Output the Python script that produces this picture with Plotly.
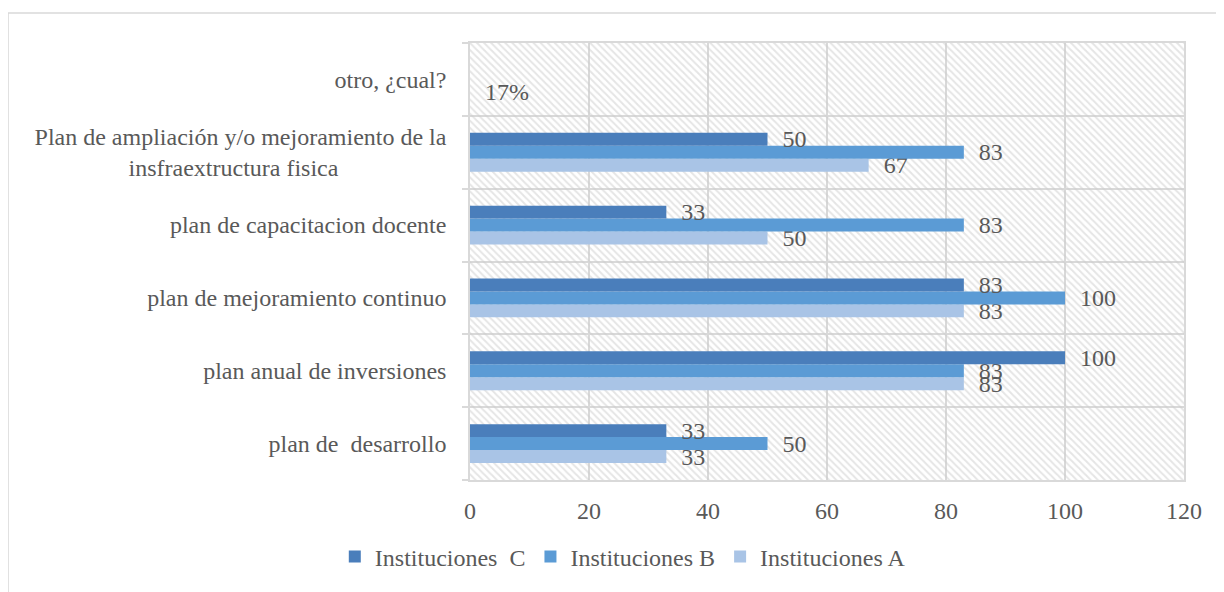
import plotly.graph_objects as go

NB = "\u00a0"
categories = [
    "plan de" + NB + NB + "desarrollo",
    "plan anual de inversiones",
    "plan de mejoramiento continuo",
    "plan de capacitacion docente",
    "Plan de ampliación y/o mejoramiento de la<br>insfraextructura fisica" + NB * 18,
    "otro, ¿cual?",
]
series_names = ["Instituciones A", "Instituciones B", "Instituciones" + NB + NB + "C"]
values_A = [33, 83, 83, 50, 67, 0]
values_B = [50, 83, 100, 83, 83, None]
values_C = [33, 100, 83, 33, 50, None]
labels_A = ["33", "83", "83", "50", "67", "17%"]
labels_B = ["50", "83", "100", "83", "83", ""]
labels_C = ["33", "100", "83", "33", "50", ""]
colors = ["#A9C4E6", "#5B9BD5", "#4A7EBB"]
x_ticks = [0, 20, 40, 60, 80, 100, 120]
x_max = 120

FONT = "Liberation Serif, Times New Roman, serif"
FS = 24
TXT = "#595959"
GRID = "#d9d9d9"

fig = go.Figure()

# hatched plot background
fig.add_trace(go.Bar(
    y=categories, x=[x_max] * len(categories), orientation="h", width=1,
    marker=dict(color="rgba(0,0,0,0)", line=dict(width=0),
                pattern=dict(shape="\\", fgcolor="#cccccc", bgcolor="rgba(0,0,0,0)",
                             size=5, solidity=0.4)),
    showlegend=False, hoverinfo="skip", yaxis="y",
))

for name, vals, labs, col in zip(series_names, [values_A, values_B, values_C],
                                 [labels_A, labels_B, labels_C], colors):
    fig.add_trace(go.Bar(
        y=categories, x=vals, orientation="h", name=name,
        marker=dict(color=col, line=dict(width=0)),
        text=[(NB + NB + t) if t else "" for t in labs],
        textposition="outside", constraintext="none", cliponaxis=False,
        textfont=dict(family=FONT, size=FS, color=TXT),
        yaxis="y2",
    ))

fig.update_layout(
    width=1216, height=584,
    margin=dict(l=462, r=40, t=35, b=112),
    paper_bgcolor="white", plot_bgcolor="white",
    font=dict(family=FONT, size=FS, color=TXT),
    barmode="group", bargap=0.466, bargroupgap=0,
    xaxis=dict(range=[0, x_max], tickvals=x_ticks, showgrid=True, gridcolor=GRID,
               gridwidth=1.5, zeroline=False, showline=True, linecolor=GRID, linewidth=1.5,
               mirror=True, ticks="", ticklabelstandoff=8,
               tickfont=dict(family=FONT, size=FS, color=TXT)),
    yaxis=dict(type="category", categoryorder="array", categoryarray=categories,
               range=[-0.5, len(categories) - 0.5], tickson="boundaries",
               showgrid=True, gridcolor=GRID, gridwidth=1.5, showline=True,
               linecolor=GRID, linewidth=1.5, mirror=True, ticks="outside",
               ticklen=6, tickcolor=GRID, tickwidth=1.5, ticklabelstandoff=17,
               tickfont=dict(family=FONT, size=FS, color=TXT)),
    yaxis2=dict(type="category", categoryorder="array", categoryarray=categories,
                range=[-0.5, len(categories) - 0.5], overlaying="y",
                showticklabels=False, showgrid=False, showline=False, ticks=""),
    legend=dict(orientation="h", traceorder="reversed", x=0.214, xanchor="center",
                y=-0.176, yanchor="middle",
                font=dict(family=FONT, size=FS, color=TXT)),
    shapes=[dict(type="rect", xref="paper", yref="paper",
                 x0=-0.647, x1=1.07, y0=-0.28, y1=1.0686,
                 line=dict(color=GRID, width=1.5), fillcolor="rgba(0,0,0,0)", layer="below")],
)

fig.write_html("out.html")
